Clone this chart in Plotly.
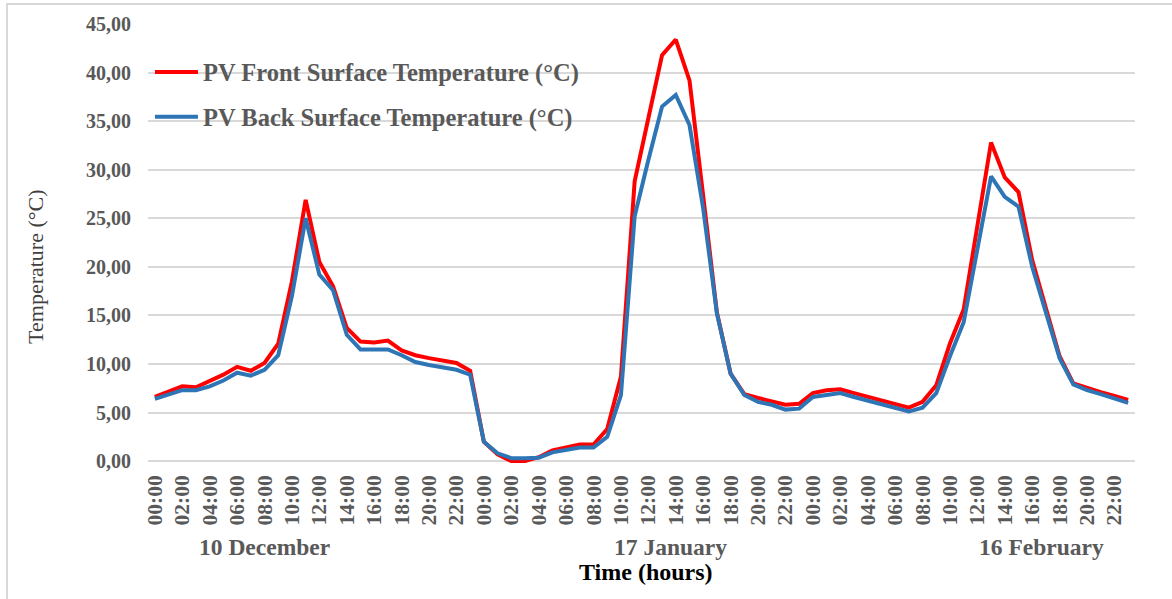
import plotly.graph_objects as go

# ---- data ----
hour_labels = ["%02d:00" % h for h in range(24)]
day_names = ["10 December", "17 January", "16 February"]
series_names = ["PV Front Surface Temperature (°C)", "PV Back Surface Temperature (°C)"]

front_temp = [
    6.6, 7.1, 7.7, 7.6, 8.2, 8.9, 9.7, 9.3, 10.1, 12.1, 18.5, 26.9,
    20.5, 18.0, 13.7, 12.3, 12.2, 12.4, 11.4, 10.9, 10.6, 10.4, 10.1, 9.3,
    2.0, 0.7, 0.0, 0.0, 0.4, 1.1, 1.4, 1.7, 1.7, 3.3, 8.7, 28.8,
    35.3, 41.8, 43.4, 39.2, 27.3, 15.3, 9.0, 6.9, 6.5, 6.1, 5.8, 5.9,
    7.0, 7.3, 7.4, 7.0, 6.6, 6.2, 5.9, 5.5, 6.1, 7.8, 12.1, 15.6,
    24.2, 32.8, 29.2, 27.7, 20.7, 15.9, 10.8, 8.0, 7.5, 7.1, 6.7, 6.3,
]
back_temp = [
    6.4, 6.8, 7.3, 7.3, 7.7, 8.3, 9.1, 8.8, 9.4, 10.9, 17.0, 25.0,
    19.2, 17.6, 13.0, 11.5, 11.5, 11.5, 10.9, 10.2, 9.9, 9.6, 9.4, 8.9,
    2.0, 0.8, 0.3, 0.3, 0.35, 0.9, 1.1, 1.4, 1.4, 2.5, 6.8, 25.2,
    31.0, 36.5, 37.7, 34.6, 26.0, 15.2, 9.0, 6.8, 6.1, 5.8, 5.3, 5.4,
    6.6, 6.8, 7.0, 6.6, 6.2, 5.8, 5.5, 5.1, 5.5, 7.0, 10.8, 14.3,
    21.8, 29.3, 27.2, 26.2, 20.0, 15.4, 10.6, 7.9, 7.3, 6.9, 6.5, 6.0,
]

time_labels = hour_labels * len(day_names)
x_idx = list(range(len(time_labels)))
tick_idx = x_idx[::2]
tick_txt = time_labels[::2]
day_label_pos = [8.0, 37.6, 64.7]

FONT = "Liberation Serif, Times New Roman, serif"
GREY = "#595959"

fig = go.Figure()
fig.add_trace(go.Scatter(
    x=x_idx, y=front_temp, mode="lines", name=series_names[0],
    line=dict(color="#ff0000", width=4), legend="legend",
))
fig.add_trace(go.Scatter(
    x=x_idx, y=back_temp, mode="lines", name=series_names[1],
    line=dict(color="#2e75b6", width=4), legend="legend2",
))

legend_font = dict(family=FONT, size=24.5, color=GREY, weight="bold")
fig.update_layout(
    width=1172, height=599,
    margin=dict(l=148, r=37, t=24, b=135),
    paper_bgcolor="white", plot_bgcolor="white",
    separators=",.",
    showlegend=True,
    legend=dict(x=0.002, y=0.891, xanchor="left", yanchor="middle",
                bgcolor="rgba(0,0,0,0)", font=legend_font, itemwidth=43),
    legend2=dict(x=0.002, y=0.789, xanchor="left", yanchor="middle",
                 bgcolor="rgba(0,0,0,0)", font=legend_font, itemwidth=43),
    xaxis=dict(
        range=[-0.5, len(x_idx) - 0.5],
        tickmode="array", tickvals=tick_idx, ticktext=tick_txt,
        tickangle=-90, showgrid=False, zeroline=False, showline=False,
        ticks="", ticklabelstandoff=6,
        tickfont=dict(family=FONT, size=21.5, color=GREY, weight="bold"),
    ),
    yaxis=dict(
        range=[-0.3, 45], tickmode="linear", tick0=0, dtick=5,
        tickformat=".2f", showgrid=True, gridcolor="#d9d9d9", gridwidth=1.5,
        zeroline=False, showline=False, ticks="", ticklabelstandoff=16,
        tickfont=dict(family=FONT, size=20, color=GREY, weight="bold"),
    ),
)

annotations = []
for name, pos in zip(day_names, day_label_pos):
    annotations.append(dict(
        x=pos, xref="x", y=-0.189, yref="paper", text=name, showarrow=False,
        xanchor="center", yanchor="middle",
        font=dict(family=FONT, size=23.5, color=GREY, weight="bold"),
    ))
annotations.append(dict(
    x=0.505, xref="paper", y=-0.245, yref="paper", text="Time (hours)",
    showarrow=False, xanchor="center", yanchor="middle",
    font=dict(family=FONT, size=24, color="#000000", weight="bold"),
))
plot_w = 1172 - 148 - 37
annotations.append(dict(
    x=(36 - 148) / plot_w, xref="paper", y=0.448, yref="paper",
    text="Temperature (°C)",
    showarrow=False, textangle=-90, xanchor="center", yanchor="middle",
    font=dict(family=FONT, size=22, color="#404040"),
))
fig.update_layout(annotations=annotations)

# outer chart frame
plot_h = 599 - 24 - 135
fig.add_shape(type="rect", xref="paper", yref="paper",
              x0=(7 - 148) / plot_w, x1=1.2,
              y0=-0.5, y1=(599 - 135 - 4) / plot_h,
              line=dict(color="#d9d9d9", width=2), fillcolor="rgba(0,0,0,0)",
              layer="below")

fig.write_html("out.html")
